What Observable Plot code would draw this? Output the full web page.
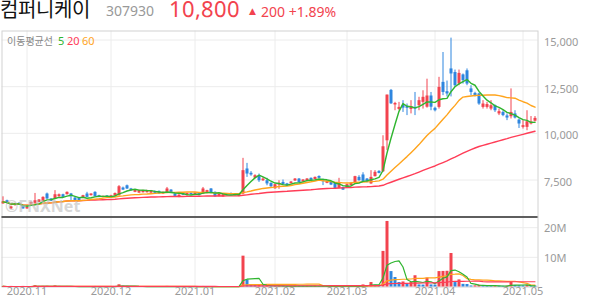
<!DOCTYPE html>
<html><head><meta charset="utf-8">
<script src="https://cdn.jsdelivr.net/npm/d3@7"></script>
<script src="https://cdn.jsdelivr.net/npm/@observablehq/plot@0.6"></script>
<style>
@font-face{font-family:"HeadKR";src:local("Noto Sans CJK KR Regular"),local("NotoSansCJKkr-Regular"),local("Noto Sans CJK KR");
  ascent-override:84%;descent-override:16%;line-gap-override:0%;}
@font-face{font-family:"HeadNum";src:local("Noto Sans Regular"),local("NotoSans-Regular"),local("Noto Sans");
  ascent-override:78%;descent-override:22%;line-gap-override:0%;}
html,body{margin:0;padding:0;background:#fff;}
#chart{position:relative;width:594px;height:304px;overflow:hidden;}
#chart svg{position:absolute;left:0;top:0;}
.t{position:absolute;white-space:nowrap;}
</style></head><body><div id="chart">
<div class="t" style="left:0;top:0.2px;font:20px/20px HeadKR,'Noto Sans CJK KR';color:#111">컴퍼니케이</div>
<div class="t" style="left:106px;top:4.3px;font:14px/14px 'Noto Sans';color:#999">307930</div>
<div class="t" id="price" style="left:169px;top:0.3px;font:22px/22px HeadNum,'Noto Sans'">10,800</div>
<div class="t" id="arrow" style="left:249px;top:7px;font:9px/9px 'DejaVu Sans'">▲</div>
<div class="t" id="chg" style="left:261px;top:4.6px;font:14px/14px 'Noto Sans'">200 +1.89%</div>
<div class="t" style="left:7px;top:35.6px;font:10px/10px 'Noto Sans CJK KR';color:#888">이동평균선</div>
<div class="t" id="l5" style="left:58px;top:35.2px;font:11px/11px 'Noto Sans'">5</div>
<div class="t" id="l20" style="left:67px;top:35.2px;font:11px/11px 'Noto Sans'">20</div>
<div class="t" id="l60" style="left:82px;top:35.2px;font:11px/11px 'Noto Sans'">60</div>
</div>
<script>
// ---- data (daily, trading-day index 0 = 2020-10-23) ----
const opens = [6220,6390,5950,6130,6250,6120,5950,6210,6250,6300,6350,6750,6480,6480,6600,6710,6710,6750,6530,6530,6530,6750,6660,6840,6660,6570,6640,6600,6640,6660,7070,7190,7020,6840,6800,6820,6820,6800,6890,6890,6750,6840,6960,6750,6570,6780,6660,6780,6710,6780,6750,6780,7020,6840,6620,6600,6750,6780,6660,6620,6750,8090,7860,7600,7730,7460,7460,7320,7030,7230,7370,7290,7300,7450,7550,7390,7430,7590,7520,7690,7450,7320,7390,7320,7050,7100,7100,7200,7320,7640,7770,7550,7290,7680,7960,7940,9600,12300,11520,11280,11500,11430,11280,11390,11480,11660,11400,12000,11340,11390,12730,12230,13450,13260,12640,13130,13350,12380,12140,12110,11390,11390,11300,11480,11040,11120,10930,10890,11040,10710,10320,10320,10500,10650];
const highs = [6600,6420,6100,6260,6280,6150,6060,6320,6780,6450,6600,6800,6500,6930,6750,6740,6860,6780,6560,6560,6680,6840,6760,6870,6680,6640,6660,6680,6800,7200,7120,7230,7050,6980,6950,6950,6950,6940,6910,6910,6860,7100,6980,6770,6710,6800,6800,6800,6820,6800,7100,6950,7040,6860,6770,6720,6780,6800,6770,6770,8660,8390,7950,7780,7820,7620,7590,7350,7270,7460,7500,7320,7420,7580,7580,7520,7580,7610,7660,7720,7550,7450,7420,7340,7590,7120,7270,7370,7700,7730,7890,7580,8000,8000,8000,9870,12050,12350,11660,11660,11750,11570,11750,12190,11930,12280,12900,12190,11400,13000,14330,12800,15100,13390,13390,13180,13450,12550,12200,12150,11750,11660,11750,11520,11300,11210,11040,12380,11210,10770,10680,11210,10900,10900];
const lows = [6200,6230,5920,6100,6150,5930,5930,6200,6210,6280,6330,6470,6340,6450,6580,6550,6700,6390,6380,6380,6520,6560,6640,6590,6550,6540,6570,6580,6620,6640,6940,6990,6900,6820,6780,6800,6800,6780,6730,6730,6730,6820,6780,6600,6550,6670,6640,6690,6690,6640,6720,6760,6760,6580,6600,6580,6680,6670,6640,6600,6720,7640,7700,7560,7370,7420,7190,7100,7000,7000,7230,7150,7280,7420,7340,7370,7400,7460,7500,7570,7200,7300,7200,7030,7030,6940,7080,7180,7290,7440,7410,7350,7270,7660,7830,7900,9070,11550,11210,11210,11120,10950,11040,10950,11210,11300,11350,11210,11150,11300,12020,11950,11950,12460,12550,12640,12550,12020,11950,11500,11300,11300,11210,11120,10950,10890,10680,10770,10770,10260,10230,10140,10450,10600];
const closes = [6330,6250,6060,6240,6180,5950,6040,6300,6390,6430,6570,6480,6360,6710,6710,6570,6840,6600,6390,6390,6660,6570,6750,6600,6570,6620,6600,6650,6780,7140,6960,7020,6930,6960,6930,6930,6920,6920,6750,6750,6840,7020,6800,6620,6690,6690,6780,6710,6800,6660,7020,6930,6780,6600,6750,6710,6700,6690,6750,6750,8000,7820,7770,7730,7460,7550,7290,7140,7250,7320,7250,7180,7390,7550,7360,7500,7550,7480,7640,7590,7410,7430,7230,7050,7320,6960,7250,7320,7680,7460,7430,7370,7640,7910,7850,9280,12050,11580,11600,11390,11350,11340,11430,11300,11750,11930,12000,11400,11210,12460,12190,12110,13180,12550,13210,12820,12640,12190,12020,11570,11570,11540,11480,11210,11160,10950,10820,11120,10820,10500,10410,10620,10600,10800];
// volume in thousands of shares
const volumesK = [180,150,200,160,120,200,150,140,450,180,220,250,160,380,200,150,180,170,130,120,150,160,140,180,130,110,120,150,200,750,300,250,180,160,150,140,130,150,120,110,130,200,150,130,120,110,100,120,130,110,180,140,150,130,110,100,120,110,100,110,10400,2400,800,500,600,400,450,350,300,350,280,250,260,300,280,250,260,240,280,260,300,250,240,300,320,280,300,250,400,350,700,400,1500,600,500,12000,22100,5200,3200,1500,1700,900,1500,3800,700,650,3000,700,650,5200,5250,5300,11300,1500,2400,900,850,350,400,580,500,450,300,350,300,250,300,1700,500,450,400,500,350,300];
const monthIdx = [6,27,48,68,86,108,130];
const monthLabels = ["2020.11","2020.12","2021.01","2021.02","2021.03","2021.04","2021.05"];
const priceTicks = [7500,10000,12500,15000];
const volTicks = [10000,20000];
const volLabels = ["10M","20M"];

const RED="#f2434e", BLUE="#2f86df", GREEN="#2fb52f", ORANGE="#ffa41c", MA60C="#ff3d57";
for (const [id,c] of [["price",RED],["arrow",RED],["chg",RED],["l5",GREEN],["l20",MA60C],["l60",ORANGE]])
  document.getElementById(id).style.color = c;

const data = closes.map((c,i)=>({i, open:opens[i], high:highs[i], low:lows[i], close:c,
  vol:volumesK[i], volUp: i===0 || volumesK[i]>=volumesK[i-1]}));
const font = "'Noto Sans','DejaVu Sans',sans-serif";
const n = closes.length;
const xOpt = {type:"linear", domain:[0,n-1], range:[2.5, 2.5+4*(n-1)], axis:null};
const candleColor = d => d.close>=d.open ? RED : BLUE;
const common = {width:594, height:304, marginLeft:1.5, marginRight:56.5,
  style:{background:"transparent", fontFamily:font, overflow:"visible"}};

const pricePlot = Plot.plot({
  ...common, marginTop:30.5, marginBottom:87.5,
  x:xOpt, y:{domain:[7500,15000], range:[179.5,39.5], axis:null},
  marks:[
    Plot.ruleY(priceTicks, {stroke:"#ececec"}),
    Plot.ruleX(monthIdx, {stroke:"#ececec"}),
    Plot.frame({stroke:"#d2d2d2"}),
    Plot.text(priceTicks, {y:d=>d, frameAnchor:"right", dx:6, dy:2.5, textAnchor:"start",
      text:d=>d3.format(",")(d), fill:"#9a9a9a", fontSize:11}),
    Plot.ruleX(data, {x:"i", y1:"low", y2:"high", stroke:candleColor}),
    Plot.ruleX(data, {x:"i", y1:"open", y2:"close", stroke:candleColor, strokeWidth:3}),
    Plot.lineY(data, Plot.windowY({k:60, anchor:"end", strict:false}, {x:"i", y:"close", stroke:MA60C, strokeWidth:1.4})),
    Plot.lineY(data, Plot.windowY({k:20, anchor:"end", strict:false}, {x:"i", y:"close", stroke:ORANGE, strokeWidth:1.4})),
    Plot.lineY(data, Plot.windowY({k:5, anchor:"end", strict:false}, {x:"i", y:"close", stroke:GREEN, strokeWidth:1.4}))
  ]
});

const volPlot = Plot.plot({
  ...common, marginTop:216.5, marginBottom:17.5,
  x:xOpt, y:{domain:[0,23600], range:[286.5,216.5], axis:null},
  marks:[
    Plot.ruleY(volTicks, {stroke:"#ececec"}),
    Plot.ruleX(monthIdx, {stroke:"#ececec"}),
    Plot.frame({stroke:"#d2d2d2"}),
    Plot.ruleX(data, {x:"i", y1:0, y2:"vol", stroke:d=>d.volUp?RED:BLUE, strokeWidth:3}),
    Plot.lineY(data, Plot.windowY({k:20, anchor:"end", strict:false}, {x:"i", y:"vol", stroke:ORANGE, strokeWidth:1.2})),
    Plot.lineY(data, Plot.windowY({k:5, anchor:"end", strict:false}, {x:"i", y:"vol", stroke:GREEN, strokeWidth:1.2})),
    Plot.lineY(data, Plot.windowY({k:60, anchor:"end", strict:false}, {x:"i", y:"vol", stroke:MA60C, strokeWidth:1.2})),
    Plot.ruleY([23600], {stroke:"#333", strokeWidth:1.6}),
    Plot.text(volTicks, {y:d=>d, frameAnchor:"right", dx:6, dy:1, textAnchor:"start",
      text:(d,i)=>volLabels[i], fill:"#9a9a9a", fontSize:11}),
    Plot.text(monthIdx, {x:d=>d, frameAnchor:"bottom", dy:7.5, text:(d,i)=>monthLabels[i], fill:"#9a9a9a", fontSize:11})
  ]
});

const root = document.getElementById("chart");
root.insertBefore(volPlot, root.firstChild);
root.insertBefore(pricePlot, root.firstChild);

// faint watermark
const svg = d3.select(root).append("svg").attr("width",594).attr("height",304)
  .style("font-family", font).style("pointer-events","none");
svg.append("text").attr("x",5).attr("y",212).attr("font-size",16).attr("font-weight","bold")
  .attr("fill","#bdbdbd").attr("opacity",0.6).text("©FNXNet");
</script></body></html>
